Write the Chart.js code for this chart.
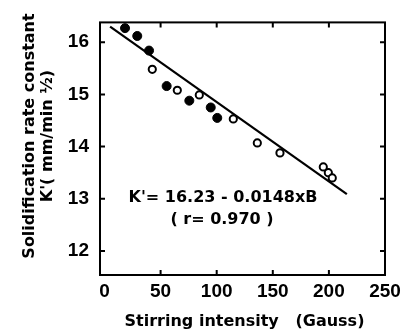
<!DOCTYPE html>
<html>
<head>
<meta charset="utf-8">
<script src="https://cdn.jsdelivr.net/npm/chart.js@4.4.0/dist/chart.umd.min.js"></script>
<style>
  html, body { margin: 0; padding: 0; background: #fff; }
  canvas { display: block; }
</style>
</head>
<body>
<canvas id="chart" width="409" height="333"></canvas>
<script>
// Filled circles
const filledX = [18.3, 29.2, 39.7, 55.4, 75.6, 94.7, 100.5];
const filledY = [16.27, 16.12, 15.84, 15.16, 14.88, 14.75, 14.55];
// Open circles
const openX = [42.6, 64.9, 84.5, 114.8, 136.2, 156.4, 195.0, 199.5, 203.0];
const openY = [15.48, 15.08, 14.99, 14.53, 14.07, 13.88, 13.61, 13.50, 13.40];
// Regression line as drawn
const lineX = [5, 216];
const lineY = [16.30, 13.09];

const xTicks = [0, 50, 100, 150, 200, 250];
const yTicks = [12, 13, 14, 15, 16];

const yTitle = ['Solidification rate constant', "K'( mm/min \u00bd)"];
const xTitle = 'Stirring intensity   (Gauss)';
const equation = ["K'= 16.23 - 0.0148xB", '( r= 0.970 )'];

const toPoints = (xs, ys) => xs.map((x, i) => ({ x: x, y: ys[i] }));

const tickFont = { family: "'Liberation Sans', Arial", size: 19, weight: 'bold' };
const textFont = "bold 16px 'DejaVu Sans', sans-serif";

// Box, inward ticks and the text labels
const framePlugin = {
    id: 'frame',
    afterDatasetsDraw(chart) {
        const ctx = chart.ctx;
        const a = chart.chartArea;
        const xs = chart.scales.x;
        const ys = chart.scales.y;
        ctx.save();
        ctx.strokeStyle = '#000';
        ctx.lineWidth = 2;
        ctx.strokeRect(a.left, a.top, a.right - a.left, a.bottom - a.top);
        ctx.beginPath();
        xTicks.slice(1, -1).forEach(v => {
            const px = xs.getPixelForValue(v);
            ctx.moveTo(px, a.bottom);
            ctx.lineTo(px, a.bottom - 5);
            ctx.moveTo(px, a.top);
            ctx.lineTo(px, a.top + 5);
        });
        yTicks.forEach(v => {
            const py = ys.getPixelForValue(v);
            ctx.moveTo(a.left, py);
            ctx.lineTo(a.left + 5, py);
            ctx.moveTo(a.right, py);
            ctx.lineTo(a.right - 5, py);
        });
        ctx.stroke();
        ctx.restore();
    },
    afterDraw(chart) {
        const ctx = chart.ctx;
        const a = chart.chartArea;
        ctx.save();
        ctx.fillStyle = '#000';
        ctx.font = textFont;
        ctx.textAlign = 'center';

        // equation
        ctx.textBaseline = 'middle';
        ctx.fillText(equation[0], 223, 198);
        ctx.fillText(equation[1], 222, 220);

        // x title
        ctx.textBaseline = 'alphabetic';
        ctx.fillText(xTitle, (a.left + a.right) / 2 + 2, 326);

        // y title, two rotated lines
        [[34, yTitle[0]], [52, yTitle[1]]].forEach(([x, t]) => {
            ctx.save();
            ctx.translate(x, 136);
            ctx.rotate(-Math.PI / 2);
            ctx.fillText(t, 0, 0);
            ctx.restore();
        });
        ctx.restore();
    }
};

new Chart(document.getElementById('chart'), {
    type: 'scatter',
    data: {
        datasets: [
            {
                data: toPoints(filledX, filledY),
                pointRadius: 4.5,
                pointBackgroundColor: '#000',
                pointBorderColor: '#000',
                pointBorderWidth: 1
            },
            {
                data: toPoints(openX, openY),
                pointRadius: 3.6,
                pointBackgroundColor: '#fff',
                pointBorderColor: '#000',
                pointBorderWidth: 2
            },
            {
                type: 'line',
                data: toPoints(lineX, lineY),
                borderColor: '#000',
                borderWidth: 2.2,
                pointRadius: 0,
                fill: false
            }
        ]
    },
    options: {
        responsive: false,
        devicePixelRatio: 1,
        animation: false,
        layout: { padding: { top: 10, right: 24, left: 0, bottom: 0 } },
        plugins: {
            legend: { display: false },
            tooltip: { enabled: false }
        },
        scales: {
            x: {
                type: 'linear',
                min: -4,
                max: 250,
                afterBuildTicks: s => { s.ticks = xTicks.map(v => ({ value: v })); },
                afterFit: s => { s.height = 58; },
                grid: { display: false, drawTicks: false },
                border: { display: false },
                ticks: { color: '#000', font: tickFont, padding: 5, maxRotation: 0 }
            },
            y: {
                type: 'linear',
                min: 11.54,
                max: 16.38,
                afterBuildTicks: s => { s.ticks = yTicks.map(v => ({ value: v })); },
                afterFit: s => { s.width = 100; },
                grid: { display: false, drawTicks: false },
                border: { display: false },
                ticks: { color: '#000', font: tickFont, padding: 11 }
            }
        }
    },
    plugins: [framePlugin]
});
</script>
</body>
</html>
